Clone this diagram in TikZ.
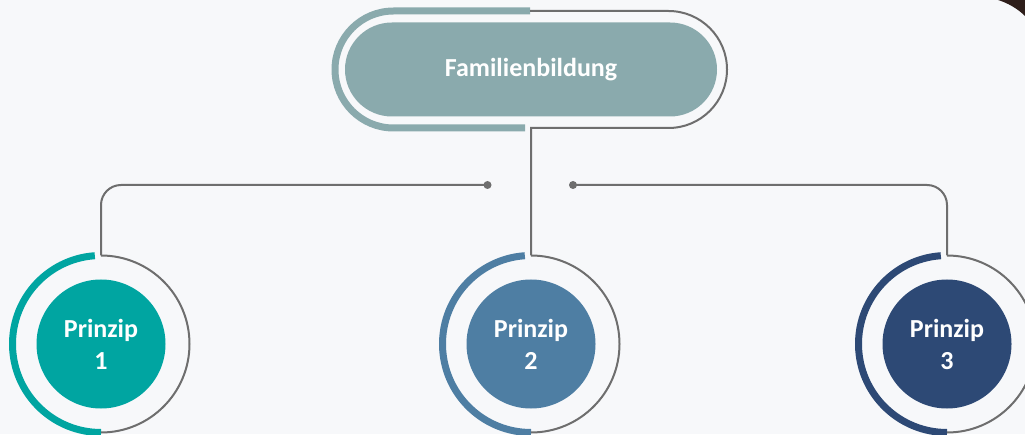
\documentclass[tikz,border=0pt]{standalone}
\usepackage{fontspec}
\setmainfont{Carlito}
\usetikzlibrary{calc}
\definecolor{bg}{HTML}{F7F8FA}
\definecolor{pillc}{HTML}{8AAAAD}
\definecolor{cA}{HTML}{00A5A1}
\definecolor{cB}{HTML}{4E7EA3}
\definecolor{cC}{HTML}{2D4975}
\definecolor{lineg}{HTML}{6E6E6E}
\definecolor{brownc}{HTML}{2E1E1A}
\tikzset{
  lbl/.style={text=white, font=\fontsize{26}{32}\selectfont\bfseries, align=center},
  pill/.style={lbl, fill=pillc, minimum width=372pt, minimum height=94pt, rounded corners=47pt, inner sep=0pt},
  disc/.style={lbl, circle, minimum size=129pt, inner sep=0pt},
  thinline/.style={draw=lineg, line width=2pt},
  thickband/.style={line width=7pt},
  dotn/.style={circle, fill=lineg, minimum size=8pt, inner sep=0pt}
}
\begin{document}
\begin{tikzpicture}[x=1pt,y=1pt]
\path[use as bounding box, fill=bg] (0,0) rectangle (1025,434);
% corner artifact
\fill[brownc] (998,434) .. controls (1008,431) and (1018,425) .. (1025,418) -- (1025,434) -- cycle;

% top pill
\node[pill] (fam) at (531,364.5) {Familienbildung};
\coordinate (famTL) at (530,423);
\coordinate (famBL) at (525,306);
\coordinate (famBR) at (531,306);
\draw[pillc, thickband] (famTL) -- (393.5,423) arc[start angle=90, end angle=270, radius=58.5] -- (famBL);

% circles
\node[disc, fill=cA] (p1) at (101,90) {Prinzip\\1};
\node[disc, fill=cB] (p2) at (531,90) {Prinzip\\2};
\node[disc, fill=cC] (p3) at (947,90) {Prinzip\\3};

\foreach \n/\c in {p1/cA, p2/cB, p3/cC}{
  \coordinate (\n top) at ($(\n)+(0,88.5)$);
  \draw[\c, thickband] ($(\n)+(94:88.5)$) arc[start angle=94, end angle=270, radius=88.5];
  \draw[thinline] (\n top) arc[start angle=90, end angle=-90, radius=88.5];
}

% dots
\node[dotn] (d1) at (487.5,249) {};
\node[dotn] (d2) at (573,249) {};

% gray line: pill right side, down to circle 2
\draw[thinline] (famTL) -- (668.5,423) arc[start angle=90, end angle=-90, radius=58.5] -- (famBR) -- (p2top);

% connectors to circles 1 and 3
\draw[thinline, rounded corners=20pt] (d1.center) -| (p1top);
\draw[thinline, rounded corners=20pt] (d2.center) -| (p3top);
\end{tikzpicture}
\end{document}
